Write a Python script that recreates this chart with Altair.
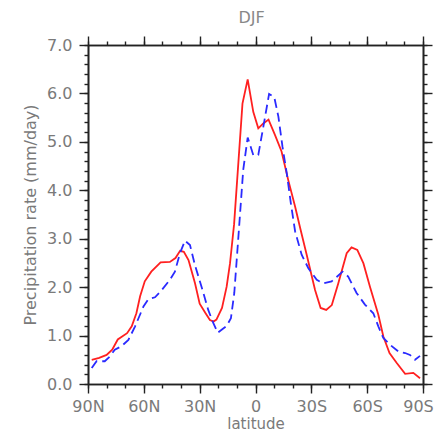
import altair as alt
import pandas as pd

# Observed/model DJF zonal mean precipitation (lat: + = N, - = S)
red_lat = [88, 84, 80, 77, 74, 69, 66.5, 64, 62, 59.5, 56, 51, 46, 43, 40.5, 38.5, 36, 32.5, 30, 27,
           24.5, 22.5, 21, 18, 15.5, 13.7, 11.5, 7, 4.2, 1.2, -1.5, -4.2, -7, -10.5, -14, -17.6, -21.3,
           -24, -27.5, -32, -35, -38, -41, -44.5, -49, -51.6, -54.7, -58, -61.5, -66, -68.7, -72, -76,
           -80.4, -84.8, -88.4]
red_val = [0.50, 0.54, 0.60, 0.71, 0.92, 1.05, 1.19, 1.46, 1.81, 2.12, 2.32, 2.51, 2.52, 2.60, 2.75,
           2.73, 2.56, 2.08, 1.66, 1.47, 1.32, 1.29, 1.33, 1.57, 2.01, 2.49, 3.30, 5.79, 6.29, 5.62,
           5.28, 5.38, 5.46, 5.14, 4.80, 4.21, 3.66, 3.22, 2.67, 1.94, 1.57, 1.53, 1.63, 2.08, 2.70,
           2.82, 2.77, 2.49, 2.01, 1.43, 0.98, 0.64, 0.43, 0.21, 0.23, 0.12]

blue_lat = [88, 85.4, 81, 78.2, 75.6, 72, 68.3, 64.7, 60.2, 57.6, 54, 50.4, 46, 43.3, 40.6, 37.9, 35.2,
            32.5, 29, 25.4, 22.7, 20.3, 18.2, 15.5, 13.2, 11.4, 10.1, 8.7, 6.6, 4.2, 1.2, -1.5, -4.2,
            -7.3, -10.1, -12.3, -14.5, -16.8, -19, -21.3, -24.8, -28.4, -32.9, -36.4, -40.9, -43.9,
            -46.8, -49.8, -54.3, -58.8, -63.3, -66, -68.7, -72.3, -76.8, -80.4, -83, -85.7, -88.4]
blue_val = [0.33, 0.47, 0.47, 0.57, 0.71, 0.78, 0.91, 1.19, 1.60, 1.75, 1.79, 1.94, 2.15, 2.32, 2.70,
            2.96, 2.87, 2.45, 2.01, 1.53, 1.26, 1.06, 1.12, 1.20, 1.36, 1.88, 2.56, 3.30, 4.42, 5.09,
            4.73, 4.73, 5.31, 5.99, 5.92, 5.52, 4.90, 4.35, 3.73, 3.15, 2.67, 2.39, 2.15, 2.08, 2.12,
            2.22, 2.32, 2.22, 1.88, 1.64, 1.46, 1.19, 0.95, 0.81, 0.67, 0.64, 0.60, 0.50, 0.58]

x_major = [-90, -60, -30, 0, 30, 60, 90]
x_minor = list(range(-90, 91, 10))
y_major = [0, 1, 2, 3, 4, 5, 6, 7]
y_minor = [round(i * 0.2, 1) for i in range(0, 36)]

red_df = pd.DataFrame({"lat": red_lat, "val": red_val})
blue_df = pd.DataFrame({"lat": blue_lat, "val": blue_val})

FONT = "DejaVu Sans"
LBL = "#7a7a7a"
AX = "#222222"

xscale = alt.Scale(domain=[-90, 90], reverse=True, nice=False)
yscale = alt.Scale(domain=[0, 7], nice=False, zero=False)

lab_expr = "datum.value > 0 ? datum.value + 'N' : (datum.value < 0 ? (-datum.value) + 'S' : '0')"

def axis(orient, values, size, labels=False, title="", fmt=None, expr=None, tpad=8, loff=None,
         lpad=7, tsize=16):
    kw = dict(orient=orient, values=values, tickSize=size, labels=labels, title=title,
              grid=False, domainColor=AX, domainWidth=1.6, tickColor=AX, tickWidth=1.4,
              labelFont=FONT, labelFontSize=16, labelColor=LBL, labelPadding=lpad,
              labelFlush=False, labelOverlap=False,
              titleFont=FONT, titleFontSize=tsize, titleColor=LBL, titleFontWeight="normal",
              titlePadding=tpad)
    if fmt:
        kw["format"] = fmt
    if expr:
        kw["labelExpr"] = expr
    if loff is not None:
        kw["labelOffset"] = loff
    return alt.Axis(**kw)

red = alt.Chart(red_df).mark_line(color="#ff2020", strokeWidth=1.8).encode(
    x=alt.X("lat:Q", scale=xscale,
            axis=axis("bottom", x_major, 9, labels=True, title="latitude", expr=lab_expr, tpad=2,
                      lpad=5, tsize=15,
                      loff={"condition": {"test": "datum.value == -90", "value": -5}, "value": 0})),
    y=alt.Y("val:Q", scale=yscale,
            axis=axis("left", y_major, 9, labels=True, title="Precipitation rate (mm/day)", fmt=".1f")),
)

blue = alt.Chart(blue_df).mark_line(color="#2a2aff", strokeWidth=1.8, strokeDash=[9, 5]).encode(
    x=alt.X("lat:Q", scale=xscale, axis=axis("bottom", x_minor, 4)),
    y=alt.Y("val:Q", scale=yscale, axis=axis("left", y_minor, 4)),
)

top_major = alt.Chart(red_df).mark_line(opacity=0).encode(
    x=alt.X("lat:Q", scale=xscale, axis=axis("top", x_major, 9)),
    y=alt.Y("val:Q", scale=yscale, axis=axis("right", y_major, 9)),
)

top_minor = alt.Chart(red_df).mark_line(opacity=0).encode(
    x=alt.X("lat:Q", scale=xscale, axis=axis("top", x_minor, 4)),
    y=alt.Y("val:Q", scale=yscale, axis=axis("right", y_minor, 4)),
)

chart = alt.layer(red, blue, top_major, top_minor).resolve_axis(
    x="independent", y="independent"
).properties(
    width=335,
    height=339,
    title=alt.TitleParams("DJF", font=FONT, fontSize=16, color="#888888",
                          fontWeight="normal", anchor="middle", offset=9, dx=-4),
    autosize=alt.AutoSizeParams(type="none"),
    padding={"left": 80, "top": 37, "right": 11, "bottom": 51},
).configure_view(stroke=None)

chart.save("out.html", embed_options={"renderer": "svg", "actions": False})
